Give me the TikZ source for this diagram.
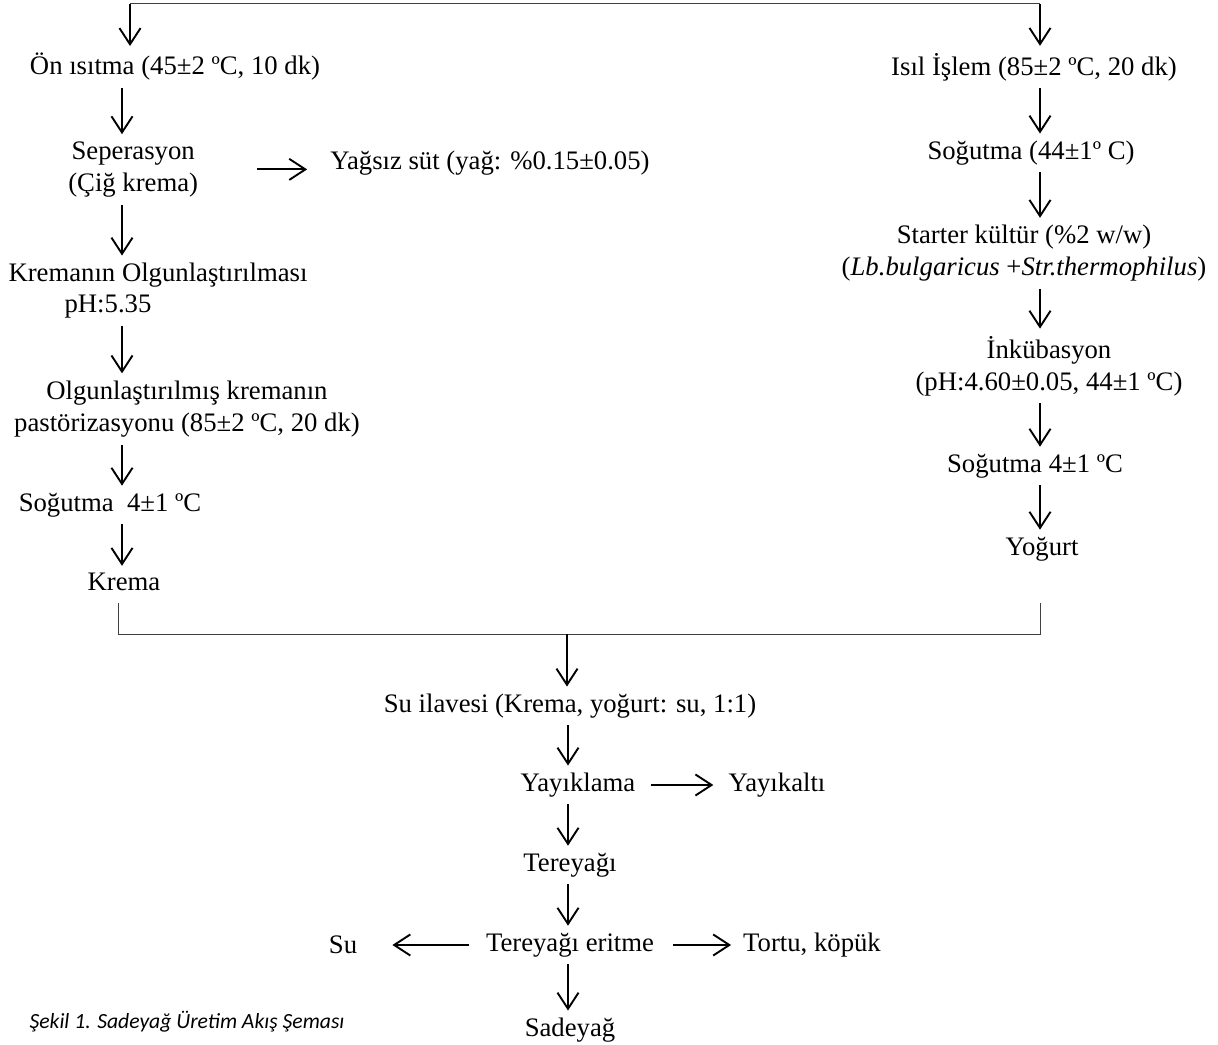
\documentclass[tikz,border=0pt]{standalone}
\usepackage{fontspec}
\setmainfont{Liberation Serif}
\newfontfamily\capfont{Carlito}
\usepackage{tikz}
\usetikzlibrary{arrows.meta, positioning, calc}

\begin{document}
\begin{tikzpicture}[>={Straight Barb[length=11.5pt, width=15pt]},
  stage/.style={font=\fontsize{19}{23}\selectfont, inner sep=5pt, align=center},
  flow/.style={->, line width=1.35pt},
  rail/.style={line width=0.7pt, black!75}]

  \useasboundingbox (0,0) rectangle (30.45,26.125);

  % Sol kol: krema
  \node[stage] (on) at (4.375,24.45) {Ön ısıtma (45±2 ºC, 10 dk)};
  \node[stage] (sep) at (3.33,21.89) {Seperasyon\\(Çiğ krema)};
  \node[stage] (yagsiz) at (12.25,22.05) {Yağsız süt (yağ: \%0.15±0.05)};
  \node[stage] (olgun) at (3.95,19.25) {Kremanın Olgunlaştırılması};
  \node[stage] (ph) at (2.7,18.45) {pH:5.35};
  \node[stage] (past) at (4.675,15.9) {Olgunlaştırılmış kremanın\\pastörizasyonu (85±2 ºC, 20 dk)};
  \node[stage] (sogL) at (2.75,13.5) {Soğutma\ \ 4±1 ºC};
  \node[stage] (krema) at (3.1,11.575) {Krema};

  % Sag kol: yogurt
  \node[stage] (isil) at (25.85,24.45) {Isıl İşlem (85±2 ºC, 20 dk)};
  \node[stage] (sogR) at (25.775,22.3) {Soğutma (44±1º C)};
  \node[stage] (starter) at (25.6,19.79) {Starter kültür (\%2 w/w)\\(\textit{Lb.bulgaricus} +\textit{Str.thermophilus})};
  \node[stage] (ink) at (26.225,16.975) {İnkübasyon\\(pH:4.60±0.05, 44±1 ºC)};
  \node[stage] (sogY) at (25.875,14.475) {Soğutma 4±1 ºC};
  \node[stage] (yogurt) at (26.05,12.4) {Yoğurt};

  % Orta: tereyagi
  \node[stage] (su) at (14.25,8.475) {Su ilavesi (Krema, yoğurt: su, 1:1)};
  \node[stage] (yay) at (14.45,6.5) {Yayıklama};
  \node[stage] (alti) at (19.425,6.5) {Yayıkaltı};
  \node[stage] (tere) at (14.25,4.5) {Tereyağı};
  \node[stage] (erit) at (14.25,2.5) {Tereyağı eritme};
  \node[stage] (suc) at (8.575,2.5) {Su};
  \node[stage] (tortu) at (20.3,2.5) {Tortu, köpük};
  \node[stage] (sade) at (14.25,0.375) {Sadeyağ};

  \node[font=\capfont\itshape\fontsize{15.4}{18}\selectfont, inner sep=0pt] (cap) at (4.675,0.575) {Şekil 1. Sadeyağ Üretim Akış Şeması};

  % Kolon eksenleri
  \coordinate (colL) at (3.05,0);
  \coordinate (colR) at (26,0);
  \coordinate (colM) at (14.2,0);
  \coordinate (topL) at (3.25,26.025);
  \coordinate (topR) at (26,26.025);
  \coordinate (bl) at (2.95,11.05);
  \coordinate (br) at (26,11.05);
  \coordinate (jn) at (14.175,10.275);

  % Ust ayrim
  \draw[rail] (topL) -- (topR);
  \draw[flow] (topL) -- (topL |- on.north);
  \draw[flow] (topR) -- (topR |- isil.north);

  \draw[flow] (on.south -| colL) -- (sep.north -| colL);
  \draw[flow, shorten <=1.3cm, shorten >=0.4cm] (sep.east) -- (yagsiz.west |- sep.east);
  \draw[flow] (sep.south -| colL) -- (olgun.north -| colL);
  \draw[flow] (ph.south -| colL) -- (past.north -| colL);
  \draw[flow] (past.south -| colL) -- (sogL.north -| colL);
  \draw[flow] (sogL.south -| colL) -- (krema.north -| colL);

  \draw[flow] (isil.south -| colR) -- (sogR.north -| colR);
  \draw[flow] (sogR.south -| colR) -- (starter.north -| colR);
  \draw[flow] (starter.south -| colR) -- (ink.north -| colR);
  \draw[flow] (ink.south -| colR) -- (sogY.north -| colR);
  \draw[flow] (sogY.south -| colR) -- (yogurt.north -| colR);

  % Birlesme
  \draw[rail] (bl) -- (bl |- jn) -- (br |- jn) -- (br);
  \draw[flow] (jn) -- (su.north -| jn);

  \draw[flow] (su.south -| colM) -- (yay.north -| colM);
  \draw[flow, shorten <=0.2cm, shorten >=0.2cm] (yay.east) -- (alti.west);
  \draw[flow] (yay.south -| colM) -- (tere.north -| colM);
  \draw[flow] (tere.south -| colM) -- (erit.north -| colM);
  \draw[flow, shorten <=0.25cm, shorten >=0.7cm] (erit.west) -- (suc.east);
  \draw[flow, shorten <=0.3cm, shorten >=0.12cm] (erit.east) -- (tortu.west);
  \draw[flow] (erit.south -| colM) -- (sade.north -| colM);

\end{tikzpicture}
\end{document}
